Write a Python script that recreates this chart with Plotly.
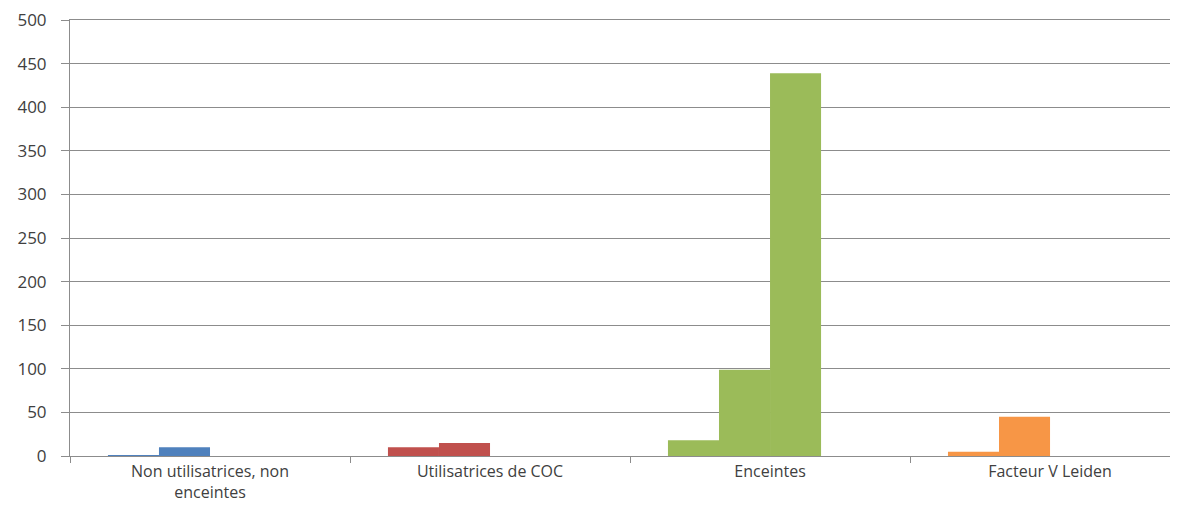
import plotly.graph_objects as go

categories = ["Non utilisatrices, non<br>enceintes", "Utilisatrices de COC", "Enceintes", "Facteur V Leiden"]
series_1 = [1, 10, 18, 5]
series_2 = [10, 15, 99, 45]
series_3 = [None, None, 439, None]
series_4 = [None, None, None, None]
cat_colors = ["#4F81BD", "#C0504D", "#9BBB59", "#F79646"]
y_ticks = [0, 50, 100, 150, 200, 250, 300, 350, 400, 450, 500]

fig = go.Figure()
for name, vals in [("S1", series_1), ("S2", series_2), ("S3", series_3), ("S4", series_4)]:
    fig.add_trace(go.Bar(x=categories, y=vals, name=name,
                         marker=dict(color=cat_colors, line=dict(width=0))))

fig.update_layout(
    width=1170, height=498,
    margin=dict(l=62, r=0, t=12, b=50),
    barmode="group", bargap=0.271, bargroupgap=0,
    showlegend=False,
    plot_bgcolor="white", paper_bgcolor="white",
    font=dict(family="Open Sans", size=17, color="#404040"),
)
fig.update_xaxes(
    range=[-0.5, 3.457], automargin=False,
    showline=True, linecolor="#8c8c8c", linewidth=1, mirror=True,
    ticks="outside", tickson="boundaries", ticklen=6, tickcolor="#8c8c8c",
    showgrid=False, zeroline=False, ticklabelstandoff=1,
    tickfont=dict(size=16),
)
fig.update_yaxes(
    range=[0, 500], tickvals=y_ticks, automargin=False,
    showline=True, linecolor="#8c8c8c", linewidth=1,
    ticks="outside", ticklen=8, tickcolor="#8c8c8c",
    showgrid=True, gridcolor="#8c8c8c", gridwidth=1,
    zeroline=False, ticklabelstandoff=11, ticklabeloverflow="allow",
)

fig.write_html("out.html")
